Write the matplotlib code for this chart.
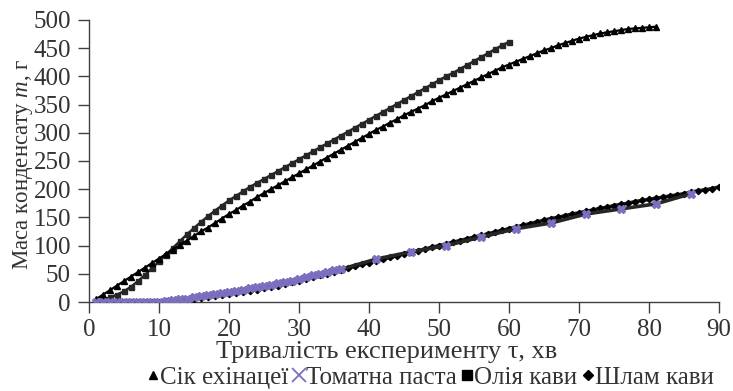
import matplotlib
matplotlib.use("Agg")
import matplotlib.pyplot as plt
from matplotlib.lines import Line2D

plt.rcParams['font.family'] = ['Liberation Serif', 'DejaVu Serif']
plt.rcParams['mathtext.fontset'] = 'custom'
plt.rcParams['mathtext.rm'] = 'Liberation Serif'
plt.rcParams['mathtext.it'] = 'Liberation Serif:italic'

# ---- data ----
echinacea_t = list(range(1, 82))
echinacea_m = [5, 13, 21, 29, 37, 45, 53, 61, 69, 77,
               85, 93, 101, 109, 117, 125, 132, 140, 148, 156,
               163, 171, 178, 186, 193, 200, 207, 214, 221, 228,
               235, 242, 249, 256, 263, 270, 277, 284, 291, 298,
               305, 311, 318, 324, 331, 337, 343, 349, 356, 362,
               368, 374, 380, 386, 392, 398, 404, 410, 416, 421,
               426, 431, 436, 441, 446, 450, 455, 459, 463, 467,
               470, 473, 476, 478, 480, 482, 484, 485, 486, 487, 488]

tomato_t = list(range(1, 37)) + [41, 46, 51, 56, 61, 66, 71, 76, 81, 86]
tomato_m = [0, 0, 0, 0, 0, 0, 0, 0, 0, 0,
            1, 3, 5, 6, 8, 10, 12, 14, 16, 18,
            20, 22, 24, 26, 28, 30, 33, 36, 38, 41,
            44, 47, 50, 53, 57, 58,
            76, 89, 100, 115, 130, 140, 156, 165, 174, 192]

coffee_oil_t = list(range(1, 61))
coffee_oil_m = [1, 4, 8, 13, 19, 27, 37, 48, 60, 72,
                84, 96, 108, 120, 131, 142, 152, 162, 171, 180,
                188, 196, 204, 211, 218, 225, 232, 239, 246, 253,
                260, 267, 274, 281, 288, 295, 302, 309, 316, 323,
                330, 337, 344, 351, 358, 365, 372, 379, 386, 393,
                400, 406, 413, 420, 427, 434, 441, 448, 455, 461]

sludge_t = list(range(1, 91))
sludge_m = [0, 0, 0, 0, 0, 0, 0, 0, 0, 0,
            1, 2, 3, 4, 6, 7, 9, 10, 12, 14,
            16, 18, 20, 22, 24, 27, 29, 32, 35, 38,
            41, 44, 47, 50, 53, 57, 60, 63, 67, 70,
            73, 76, 79, 82, 85, 88, 91, 94, 97, 100,
            103, 106, 109, 112, 115, 118, 121, 124, 127, 130,
            133, 136, 139, 142, 145, 148, 150, 153, 156, 158,
            161, 163, 166, 168, 171, 173, 175, 178, 180, 182,
            184, 186, 188, 190, 192, 195, 197, 199, 201, 204]

labels = ['Сік ехінацеї', 'Томатна паста', 'Олія кави', 'Шлам кави']

fig = plt.figure(figsize=(7.33, 3.91), dpi=100)
ax = fig.add_axes([0.1214, 0.2276, 0.981 - 0.1214, 0.949 - 0.2276])

dark = '#262626'
purple = '#7B70BF'
txt = '#333333'

ax.plot(sludge_t, sludge_m, color=dark, lw=2.6, marker='D', ms=3.2,
        mfc='black', mec='black', zorder=3)
ax.plot(tomato_t, tomato_m, color=dark, lw=2.6, marker='X', ms=5.5,
        mfc=purple, mec=purple, zorder=4)
ax.plot(coffee_oil_t, coffee_oil_m, color=dark, lw=1.8, marker='s', ms=3.6,
        mfc=dark, mec=dark, zorder=3)
ax.plot(echinacea_t, echinacea_m, color='black', lw=1.6, marker='^', ms=4.2,
        mfc='black', mec='black', zorder=3)

ax.set_xlim(0, 90)
ax.set_ylim(0, 500)
ax.set_xticks(range(0, 91, 10))
ax.set_yticks(range(0, 501, 50))
for s in ['top', 'right']:
    ax.spines[s].set_visible(False)
for s in ['left', 'bottom']:
    ax.spines[s].set_color('#404040')
    ax.spines[s].set_linewidth(1.0)
ax.tick_params(axis='both', direction='out', length=8, width=1.0,
               color='#404040', labelsize=18, labelcolor=txt)
ax.tick_params(axis='y', pad=5)
ax.tick_params(axis='x', pad=4)

ax.set_xlabel('Тривалість експерименту τ, хв', fontsize=19, color=txt,
              va='center', ha='center')
ax.xaxis.set_label_coords((386.5 - 89) / 630, -50 / 282)
ax.set_ylabel('Маса конденсату $\\mathit{m}$, г', fontsize=16.5, color=txt,
              va='center', ha='center')
ax.yaxis.set_label_coords(-66 / 630, 0.49)

handles = [
    Line2D([], [], ls='none', marker='^', color='black', ms=6),
    Line2D([], [], ls='none', marker='x', color=purple, ms=10, mew=1.3),
    Line2D([], [], ls='none', marker='s', color='black', ms=7),
    Line2D([], [], ls='none', marker='D', color='black', ms=5),
]
fig.legend(handles, labels, loc='center', bbox_to_anchor=(0.587, 0.034),
           ncol=4, frameon=False, fontsize=18, handlelength=0.5,
           handletextpad=0.05, columnspacing=0.15, labelcolor=txt,
           borderpad=0, borderaxespad=0)

fig.savefig('out.png', dpi=100)
